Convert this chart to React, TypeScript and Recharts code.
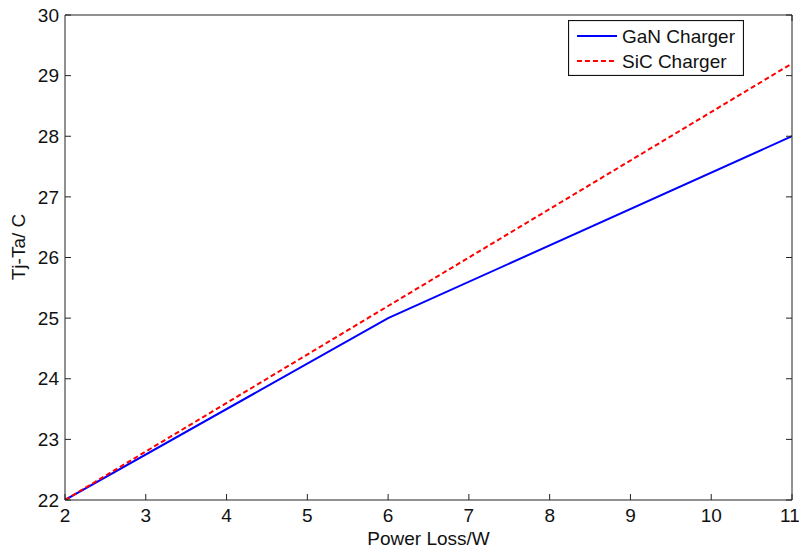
import { LineChart, Line, XAxis, YAxis, Legend, Label } from 'recharts';

// Junction temperature rise vs. power loss
const powerLoss = [2, 6, 11];
const ganRise = [22, 25, 28];
const sicRise = [22, 25.2, 29.2];

const xTicks = [2, 3, 4, 5, 6, 7, 8, 9, 10, 11];
const yTicks = [22, 23, 24, 25, 26, 27, 28, 29, 30];

const seriesNames = ['GaN Charger', 'SiC Charger'];

const data = powerLoss.map((p, i) => ({ p, gan: ganRise[i], sic: sicRise[i] }));

const FONT = '"Liberation Sans", Arial, Helvetica, sans-serif';
const AXIS = '#222';
const tickStyle = { fontSize: 19, fill: '#111', fontFamily: FONT };

function BoxLegend() {
  return (
    <svg width={176} height={56} style={{ display: 'block' }}>
      <rect x={0.5} y={0.5} width={175} height={55} fill="#fff" stroke="#111" strokeWidth={1.2} />
      <line x1={9} x2={49} y1={16} y2={16} stroke="#0000ff" strokeWidth={2} />
      <text x={54} y={16} dominantBaseline="central" fontSize={19} fontFamily={FONT} fill="#111">
        {seriesNames[0]}
      </text>
      <line x1={9} x2={49} y1={41} y2={41} stroke="#ff0000" strokeWidth={2} strokeDasharray="5 3" />
      <text x={54} y={41} dominantBaseline="central" fontSize={19} fontFamily={FONT} fill="#111">
        {seriesNames[1]}
      </text>
    </svg>
  );
}

function YTitle() {
  return (
    <text
      x={18}
      y={247}
      transform="rotate(-90 18 247)"
      textAnchor="middle"
      dominantBaseline="central"
      fontSize={19}
      fontFamily={FONT}
      fill="#111"
    >
      Tj-Ta/ C
    </text>
  );
}

export default function App() {
  return (
    <div style={{ position: 'absolute', left: 0, top: 0, background: '#fff' }}>
      <LineChart width={799} height={551} data={data} margin={{ top: 0, right: 0, bottom: 0, left: 0 }}>
        <XAxis
          dataKey="p"
          type="number"
          domain={[2, 11]}
          ticks={xTicks}
          allowDataOverflow
          height={51}
          tick={tickStyle}
          tickSize={-6}
          tickMargin={15}
          stroke={AXIS}
          tickLine={{ stroke: AXIS }}
        >
          <Label
            value="Power Loss/W"
            position="insideBottom"
            offset={6}
            style={{ fontSize: 19, fill: '#111', fontFamily: FONT }}
          />
        </XAxis>
        <XAxis
          xAxisId="top"
          orientation="top"
          type="number"
          domain={[2, 11]}
          ticks={xTicks}
          allowDataOverflow
          height={15}
          tickSize={-6}
          tickFormatter={() => ''}
          stroke={AXIS}
          tickLine={{ stroke: AXIS }}
        />
        <YAxis
          type="number"
          domain={[22, 30]}
          ticks={yTicks}
          allowDataOverflow
          width={65}
          tick={tickStyle}
          tickSize={-6}
          tickMargin={12}
          stroke={AXIS}
          tickLine={{ stroke: AXIS }}
        >
          <Label content={() => <YTitle />} />
        </YAxis>
        <YAxis
          yAxisId="right"
          orientation="right"
          type="number"
          domain={[22, 30]}
          ticks={yTicks}
          allowDataOverflow
          width={7}
          tickSize={-6}
          tickFormatter={() => ''}
          stroke={AXIS}
          tickLine={{ stroke: AXIS }}
        />
        <Legend
          layout="vertical"
          align="center"
          verticalAlign="middle"
          wrapperStyle={{ left: 568, top: 20, width: 176, height: 56 }}
          content={() => <BoxLegend />}
        />
        <Line
          type="linear"
          dataKey="gan"
          name={seriesNames[0]}
          stroke="#0000ff"
          strokeWidth={2}
          dot={false}
          isAnimationActive={false}
        />
        <Line
          type="linear"
          dataKey="sic"
          name={seriesNames[1]}
          stroke="#ff0000"
          strokeWidth={2}
          strokeDasharray="5 3"
          dot={false}
          isAnimationActive={false}
        />
      </LineChart>
    </div>
  );
}
